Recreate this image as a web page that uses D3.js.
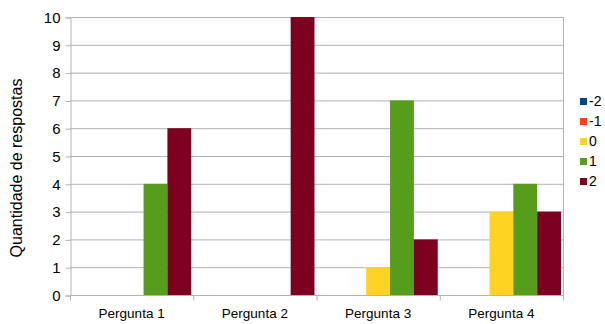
<!DOCTYPE html>
<html>
<head>
<meta charset="utf-8">
<script src="https://cdn.jsdelivr.net/npm/d3@7"></script>
<style>
  html, body { margin: 0; padding: 0; background: #fff; }
  svg { display: block; font-family: "Liberation Sans", Arial, sans-serif; }
</style>
</head>
<body>
<svg id="chart" width="605" height="324"></svg>
<script>
// Answers per question, one array per response level
const categories = ["Pergunta 1", "Pergunta 2", "Pergunta 3", "Pergunta 4"];
const seriesNames = ["-2", "-1", "0", "1", "2"];
const valuesMinus2 = [0, 0, 0, 0];
const valuesMinus1 = [0, 0, 0, 0];
const values0 = [0, 0, 1, 3];
const values1 = [4, 0, 7, 4];
const values2 = [6, 10, 2, 3];
const yTicks = [0, 1, 2, 3, 4, 5, 6, 7, 8, 9, 10];
const colors = ["#004586", "#ff420e", "#ffd320", "#579d1c", "#7e0021"];

const seriesValues = [valuesMinus2, valuesMinus1, values0, values1, values2];

const svg = d3.select("#chart");
const plot = { left: 70, right: 563, top: 17, bottom: 295 };

const x = d3.scaleBand().domain(categories).range([plot.left, plot.right]).paddingInner(0).paddingOuter(0);
const xInner = d3.scaleBand().domain(seriesNames).range([0, x.bandwidth()]).paddingOuter(0.084).paddingInner(0);
const y = d3.scaleLinear().domain([0, 10]).range([plot.bottom, plot.top]);

const gridColor = "#b3b3b3";

// Horizontal gridlines
svg.append("g").selectAll("line").data(yTicks).join("line")
  .attr("x1", plot.left).attr("x2", plot.right)
  .attr("y1", d => y(d) + 0.5).attr("y2", d => y(d) + 0.5)
  .attr("stroke", gridColor).attr("stroke-width", 1);

// Right edge of the plot wall
svg.append("line")
  .attr("x1", plot.right + 0.5).attr("x2", plot.right + 0.5)
  .attr("y1", plot.top).attr("y2", plot.bottom)
  .attr("stroke", gridColor);

// Bars
const groups = svg.append("g").selectAll("g").data(categories).join("g")
  .attr("transform", c => `translate(${x(c)},0)`);
groups.selectAll("rect")
  .data((c, i) => seriesNames.map((s, j) => ({ s, j, v: seriesValues[j][i] })).filter(d => d.v > 0))
  .join("rect")
  .attr("x", d => xInner(d.s))
  .attr("width", xInner.bandwidth())
  .attr("y", d => y(d.v))
  .attr("height", d => y(0) - y(d.v))
  .attr("fill", d => colors[d.j]);

// Y axis
const yAxis = svg.append("g")
  .attr("transform", `translate(${plot.left + 0.5},0.5)`)
  .call(d3.axisLeft(y).tickValues(yTicks).tickSize(5).tickPadding(5).tickFormat(d3.format("d")));
yAxis.select(".domain").attr("stroke", gridColor);
yAxis.selectAll(".tick line").attr("stroke", gridColor);
yAxis.selectAll(".tick text").attr("fill", "#000").style("font-size", "15px")
  .style("font-family", "Liberation Sans, Arial, sans-serif");

// X axis with ticks at category boundaries
const xAxisG = svg.append("g").attr("transform", `translate(0,${plot.bottom + 0.5})`);
xAxisG.append("line").attr("x1", plot.left).attr("x2", plot.right + 1)
  .attr("stroke", gridColor);
const boundaries = categories.map(c => x(c)).concat([plot.right]);
xAxisG.selectAll("line.b").data(boundaries).join("line").attr("class", "b")
  .attr("x1", d => d + 0.5).attr("x2", d => d + 0.5)
  .attr("y1", 0).attr("y2", 5)
  .attr("stroke", gridColor);
xAxisG.selectAll("text").data(categories).join("text")
  .attr("x", c => x(c) + x.bandwidth() / 2)
  .attr("y", 22)
  .attr("text-anchor", "middle")
  .style("font-size", "13.5px")
  .attr("fill", "#000")
  .text(c => c);

// Y axis title
svg.append("text")
  .attr("transform", `translate(22,${(plot.top + plot.bottom) / 2 + 12}) rotate(-90)`)
  .attr("text-anchor", "middle")
  .style("font-size", "16px")
  .attr("fill", "#000")
  .text("Quantidade de respostas");

// Legend
const legend = svg.append("g").attr("transform", "translate(580,101)");
const items = legend.selectAll("g").data(seriesNames).join("g")
  .attr("transform", (d, i) => `translate(0,${i * 20})`);
items.append("rect").attr("x", 0).attr("y", -3).attr("width", 7).attr("height", 7)
  .attr("fill", (d, i) => colors[i]);
items.append("text").attr("x", 9).attr("y", 0).attr("dy", "0.36em")
  .style("font-size", "14px").attr("fill", "#000")
  .text(d => d);
</script>
</body>
</html>
